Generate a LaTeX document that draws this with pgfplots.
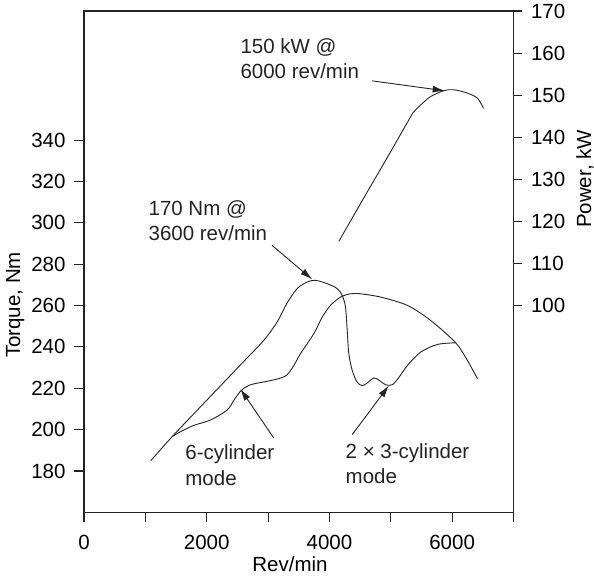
\documentclass[border=0pt]{standalone}
\usepackage{fontspec}
\setmainfont{Liberation Sans}
\usepackage{pgfplots}
\pgfplotsset{compat=1.18}
\usetikzlibrary{arrows.meta}
\definecolor{ink}{RGB}{35,35,35}
\begin{document}
\begin{tikzpicture}
\pgfplotsset{
  every axis/.append style={font=\fontsize{20.5}{25}\selectfont, /pgf/number format/assume math mode=true},
}
\begin{axis}[name=ax,
  width=429.5pt, height=501.3pt, scale only axis,
  xmin=0, xmax=7000, ymin=160, ymax=402.5,
  xtick={0,1000,...,7000}, xticklabels={0,,2000,,4000,,6000,},
  ytick={180,200,...,340},
  tick align=outside, xtick pos=bottom, ytick pos=left,
  major tick length=10pt,
  xticklabel style={yshift=-9pt},
  yticklabel style={xshift=-5pt},
  axis line style={line width=1.1pt, color=ink},
  every tick/.style={line width=1.1pt, color=ink},
  clip=false,
  xlabel={Rev/min}, ylabel={Torque, Nm},
  xlabel style={at={(axis description cs:0.4796,0)}, anchor=base, yshift=-59.4pt},
  ylabel style={at={(axis description cs:-0.16,0.4135)}, anchor=center},
  every axis plot/.append style={line width=0.9pt, color=ink},
]
% 2 x 3-cylinder mode (upper at low speed)
\addplot[smooth, tension=0.5] coordinates {
(1089,185.0) (1437,196.6) (1785,207.5) (2193,220.2) (2601,232.9) (2928,243.1)
(3147,252.0) (3310,261.2) (3473,268.2) (3637,271.4) (3772,272.2) (3963,270.6)
(4127,268.2) (4208,264.9) (4262,259.2) (4290,247.9) (4316,236.7) (4372,228.6)
(4453,222.9) (4535,221.3) (4605,222.3) (4724,225.0) (4817,223.7) (4915,221.7)
(5025,221.7) (5133,225.3) (5270,231.0) (5487,237.5) (5760,241.2) (6058,242.0)};
% 6-cylinder mode
\addplot[smooth, tension=0.5] coordinates {
(1437,196.6) (1568,198.9) (1785,202.0) (2058,204.6) (2330,209.4) (2450,214.5)
(2548,218.5) (2660,221.0) (2765,222.1) (3037,223.7) (3200,224.9) (3310,226.5)
(3420,231.0) (3527,236.7) (3745,246.4) (3882,254.4) (4017,260.1) (4180,264.1)
(4344,265.7) (4507,265.7) (4834,264.1) (5270,260.1) (5650,252.8) (6058,242.0)
(6250,233.4) (6413,224.6)};

\draw[-{Latex[length=12pt,width=7pt]}, line width=0.9pt, ink] (axis cs:4698,368.7) -- (axis cs:5879,363.9);
\draw[-{Latex[length=12pt,width=7pt]}, line width=0.9pt, ink] (axis cs:3065,289.1) -- (axis cs:3718,272.7);
\draw[-{Latex[length=12pt,width=7pt]}, line width=0.9pt, ink] (axis cs:3091,196.0) -- (axis cs:2548,219.7);
\draw[-{Latex[length=12pt,width=7pt]}, line width=0.9pt, ink] (axis cs:4372,197.6) -- (axis cs:4969,221.3);

\node[anchor=base west, inner sep=0pt, ink] at (axis cs:2548,382.0) {150 kW @};
\node[anchor=base west, inner sep=0pt, ink] at (axis cs:2548,370.0) {6000 rev/min};
\node[anchor=base west, inner sep=0pt, ink] at (axis cs:1050,303.7) {170 Nm @};
\node[anchor=base west, inner sep=0pt, ink] at (axis cs:1050,291.6) {3600 rev/min};
\node[anchor=base west, inner sep=0pt, ink] at (axis cs:1649,185.5) {6-cylinder};
\node[anchor=base west, inner sep=0pt, ink] at (axis cs:1649,173.1) {mode};
\node[anchor=base west, inner sep=0pt, ink] at (axis cs:4262,186.0) {2 × 3-cylinder};
\node[anchor=base west, inner sep=0pt, ink] at (axis cs:4262,173.8) {mode};
\end{axis}

\begin{axis}[
  width=429.5pt, height=501.3pt, scale only axis,
  xmin=0, xmax=7000, ymin=51, ymax=170,
  axis x line=none, axis y line*=right,
  ytick={100,110,...,170},
  tick align=outside, major tick length=8pt,
  yticklabel style={xshift=6pt},
  axis line style={line width=1.1pt, color=ink},
  every tick/.style={line width=1.1pt, color=ink},
  clip=false,
  ylabel={Power, kW},
  ylabel style={at={(axis description cs:1.1665,0.665)}, anchor=center},
  every axis plot/.append style={line width=0.9pt, color=ink},
]
\addplot[smooth, tension=0.5] coordinates {
(4153,115.3) (4543,125.2) (4934,135.0) (5324,144.9) (5378,146.1) (5487,147.7)
(5650,149.7) (5868,151.1) (6031,151.3) (6250,150.5) (6413,149.3) (6511,146.9)};
\end{axis}

\pgfresetboundingbox
\path[use as bounding box] ([shift={(-84pt,-67.7pt)}]ax.south west) rectangle ([shift={(80.5pt,11pt)}]ax.north east);
\end{tikzpicture}
\end{document}
